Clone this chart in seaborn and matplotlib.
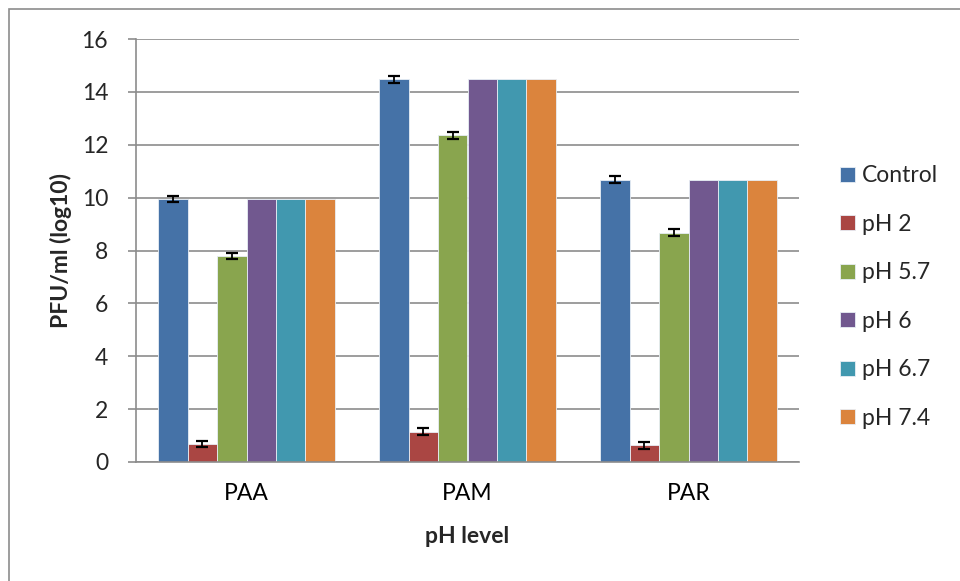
import matplotlib
matplotlib.use("Agg")
import matplotlib.pyplot as plt
import seaborn as sns
import pandas as pd
import numpy as np
from matplotlib.patches import Rectangle

categories = ["PAA", "PAM", "PAR"]
series = ["Control", "pH 2", "pH 5.7", "pH 6", "pH 6.7", "pH 7.4"]
control = [9.95, 14.47, 10.68]
ph2 = [0.68, 1.15, 0.63]
ph57 = [7.78, 12.35, 8.68]
ph6 = [9.95, 14.47, 10.68]
ph67 = [9.95, 14.47, 10.68]
ph74 = [9.95, 14.47, 10.68]
err_control = [0.12, 0.12, 0.12]
err_ph2 = [0.13, 0.13, 0.12]
err_ph57 = [0.12, 0.12, 0.12]
err_ph6 = [0, 0, 0]
err_ph67 = [0, 0, 0]
err_ph74 = [0, 0, 0]
colors = ["#4572A7", "#AA4643", "#89A54E", "#71588F", "#4198AF", "#DB843D"]

values = [control, ph2, ph57, ph6, ph67, ph74]
errs = [err_control, err_ph2, err_ph57, err_ph6, err_ph67, err_ph74]
rows = []
for s, vals, es in zip(series, values, errs):
    for c, v, e in zip(categories, vals, es):
        rows.append({"cat": c, "series": s, "value": v, "err": e})
df = pd.DataFrame(rows)

sns.set_theme(style="white")
plt.rcParams["font.family"] = ["Lato", "DejaVu Sans"]

W, H = 960, 581
FS = 16.5
fig = plt.figure(figsize=(9.6, 5.81), dpi=100)
ax = fig.add_axes([136 / W, 1 - 462 / H, (799 - 136) / W, (462 - 39) / H])

sns.barplot(data=df, x="cat", y="value", hue="series", hue_order=series,
            order=categories, palette=colors, width=0.8, ax=ax,
            edgecolor="#e8eef5", linewidth=0.6, saturation=1, errorbar=None)

for container, s in zip(ax.containers, series):
    sub = df[df["series"] == s].set_index("cat").loc[categories]
    for patch, v, e in zip(container.patches, sub["value"], sub["err"]):
        if e > 0:
            xc = patch.get_x() + patch.get_width() / 2
            ax.errorbar(xc, v, yerr=e, fmt="none", ecolor="black",
                        elinewidth=1.3, capsize=4.5, capthick=1.6, zorder=5)

ax.set_ylim(0, 16)
ax.set_xlim(-0.5, 2.5)
ax.set_yticks(np.arange(0, 17, 2))
ax.yaxis.grid(True, color="#8c8c8c", linewidth=1.2)
ax.set_axisbelow(True)
for side in ["top", "right"]:
    ax.spines[side].set_visible(False)
ax.spines["left"].set_color("#8c8c8c")
ax.spines["bottom"].set_color("#8c8c8c")
ax.spines["left"].set_linewidth(1.2)
ax.spines["bottom"].set_linewidth(1.2)

ax.set_xticks([0, 1, 2])
ax.set_xticklabels(categories)
ax.set_xticks([-0.5, 0.5, 1.5, 2.5], minor=True)
ax.tick_params(axis="x", which="major", length=0, labelsize=FS, pad=15, colors="black")
ax.tick_params(axis="x", which="minor", length=6, width=1.2, color="#8c8c8c", direction="out")
ax.tick_params(axis="y", which="major", length=6, width=1.2, color="#8c8c8c",
               direction="out", labelsize=FS, pad=14, left=True)

ax.set_ylabel("PFU/ml (log10)", fontsize=FS, fontweight="bold")
ax.yaxis.set_label_coords(72 / W, 1 - 250 / H, transform=fig.transFigure)
ax.set_xlabel("pH level", fontsize=FS, fontweight="bold", labelpad=16)

handles, labels = ax.get_legend_handles_labels()
leg = ax.legend(handles, labels, loc="center left",
                bbox_to_anchor=(840 / W, 1 - 297 / H), bbox_transform=fig.transFigure,
                frameon=False, fontsize=FS, labelspacing=1.2,
                handlelength=0.65, handleheight=0.65, handletextpad=0.3,
                borderpad=0, borderaxespad=0)

fig.patches.append(Rectangle((9 / W, -0.01), 1.0, 1 - 9 / H + 0.01,
                             transform=fig.transFigure, fill=False,
                             edgecolor="#8c8c8c", linewidth=1.2))

fig.savefig("out.png", dpi=100)
